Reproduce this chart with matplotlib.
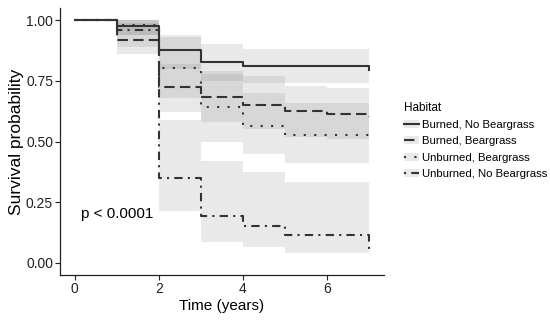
import matplotlib.pyplot as plt
from matplotlib.lines import Line2D
from matplotlib.patches import Patch

plt.rcParams['font.family'] = ['Liberation Sans', 'DejaVu Sans']

# Kaplan-Meier estimates
times = [0, 1, 2, 3, 4, 5, 6, 7]
groups = ["Burned, No Beargrass", "Burned, Beargrass",
          "Unburned, Beargrass", "Unburned, No Beargrass"]

surv_burned_nobg = [1.0, 0.978, 0.879, 0.827, 0.811, 0.811, 0.811, 0.795]
surv_burned_bg = [1.0, 0.92, 0.723, 0.682, 0.649, 0.625, 0.615, 0.60]
surv_unburned_bg = [1.0, 0.98, 0.805, 0.643, 0.564, 0.525, 0.525, 0.51]
surv_unburned_nobg = [1.0, 0.96, 0.348, 0.193, 0.154, 0.114, 0.114, 0.05]

lo_burned_nobg = [1.0, 0.94, 0.80, 0.75, 0.74, 0.74, 0.74, 0.72]
hi_burned_nobg = [1.0, 1.0, 0.94, 0.90, 0.88, 0.88, 0.88, 0.88]
lo_burned_bg = [1.0, 0.86, 0.62, 0.58, 0.55, 0.52, 0.51, 0.49]
hi_burned_bg = [1.0, 0.99, 0.82, 0.79, 0.77, 0.73, 0.72, 0.72]
lo_unburned_bg = [1.0, 0.94, 0.68, 0.50, 0.45, 0.41, 0.41, 0.39]
hi_unburned_bg = [1.0, 1.0, 0.93, 0.78, 0.70, 0.66, 0.66, 0.66]
lo_unburned_nobg = [1.0, 0.89, 0.214, 0.088, 0.065, 0.04, 0.04, 0.02]
hi_unburned_nobg = [1.0, 1.0, 0.59, 0.42, 0.376, 0.335, 0.335, 0.30]

survs = [surv_burned_nobg, surv_burned_bg, surv_unburned_bg, surv_unburned_nobg]
los = [lo_burned_nobg, lo_burned_bg, lo_unburned_bg, lo_unburned_nobg]
his = [hi_burned_nobg, hi_burned_bg, hi_unburned_bg, hi_unburned_nobg]
dash_styles = [None, (5, 2.5), (1, 4), (1, 2.5, 4, 2.5)]

line_col = '#333333'
band_col = '#808080'
lw = 1.5

fig = plt.figure(figsize=(5.5, 3.21), dpi=100)
ax = fig.add_axes([0.109, 0.143, 0.589, 0.832])

for lo, hi in zip(los, his):
    ax.fill_between(times, lo, hi, step='post', color=band_col, alpha=0.17, lw=0)

handles = []
for s, d in zip(survs, dash_styles):
    line, = ax.step(times, s, where='post', color=line_col, lw=lw)
    key = Line2D([], [], color=line_col, lw=lw)
    if d is not None:
        line.set_dashes(d)
        key.set_dashes(d)
    handles.append((Patch(facecolor=band_col, alpha=0.17, lw=0), key))

ax.text(0.15, 0.2, "p < 0.0001", fontsize=11, color='black', ha='left', va='center')

ax.set_xlim(-0.35, 7.35)
ax.set_ylim(-0.05, 1.05)
ax.set_xticks([0, 2, 4, 6])
ax.set_yticks([0, 0.25, 0.5, 0.75, 1.0])
ax.set_yticklabels(["0.00", "0.25", "0.50", "0.75", "1.00"])
ax.tick_params(labelsize=10, colors='#222222', length=3.5, width=0.8, pad=1.5)
for side in ['top', 'right']:
    ax.spines[side].set_visible(False)
for side in ['left', 'bottom']:
    ax.spines[side].set_color('#222222')
    ax.spines[side].set_linewidth(0.9)
ax.set_xlabel("Time (years)", fontsize=11, labelpad=2)
ax.set_ylabel("Survival probability", fontsize=12.5, labelpad=1)

leg = fig.legend(handles, groups, title="Habitat", loc='upper left',
                 bbox_to_anchor=(0.726, 0.696), frameon=False, fontsize=8.2,
                 title_fontsize=8.5, handlelength=1.3, handletextpad=0.3,
                 labelspacing=0.54, borderaxespad=0)
leg._legend_box.align = "left"

fig.savefig("out.png", dpi=100)
